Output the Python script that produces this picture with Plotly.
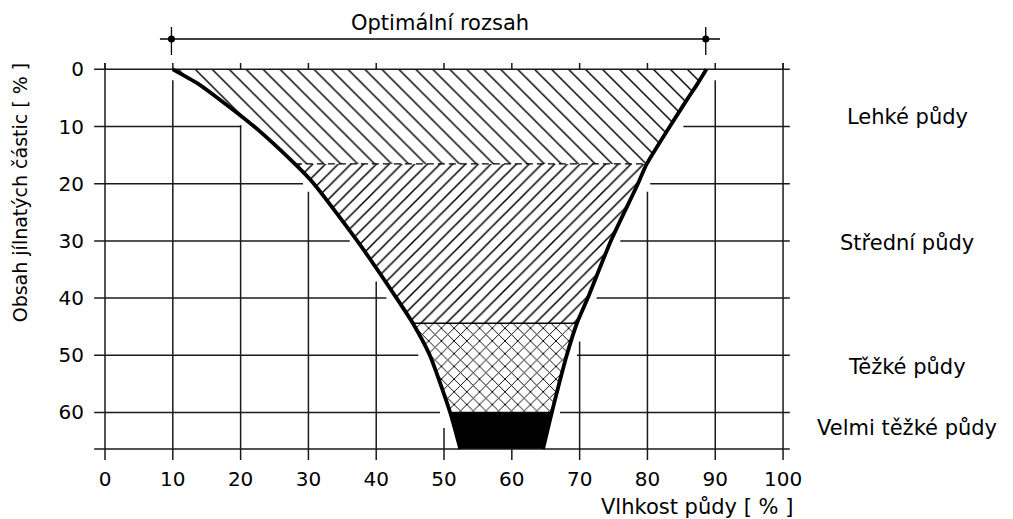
import plotly.graph_objects as go

# ---- data ----
clay_levels = [0, 2.5, 5, 10, 16.55, 20, 30, 40, 44.4, 50, 60, 66.4]
moisture_left = [10, 13.7, 16.6, 22.0, 28.0, 30.8, 37.2, 43.0, 45.4, 47.9, 50.9, 52.4]
moisture_right = [88.7, 87.4, 86.0, 83.3, 79.9, 78.6, 74.6, 71.2, 69.6, 68.1, 65.9, 64.6]

soil_classes = ["Lehké půdy", "Střední půdy", "Těžké půdy", "Velmi těžké půdy"]
class_bounds = [0, 16.55, 44.4, 60, 66.4]
class_label_y = [8.4, 30.4, 52.0, 62.7]

optimum_range = [9.8, 88.6]

x_ticks = [0, 10, 20, 30, 40, 50, 60, 70, 80, 90, 100]
y_ticks = [0, 10, 20, 30, 40, 50, 60]

# grid segments (as drawn in the original figure)
h_grid_y = [10, 20, 30, 40, 50, 60]
h_grid_left_end = [20.1, 29.2, 36.1, 41.5, 46.2, 49.4]
h_grid_right_start = [85.3, 80.4, 76.0, 72.5, 69.6, 67.1]
v_grid_top = [-1.1, 1.9, 9.8, 21.4, 37.1, 62.7, 66.4, 47.6, 21.4, 1.9, -1.1]

FONT = "DejaVu Sans"
FS = 21
INK = "#000000"

XR = [-2.95, 102.5]
YR = [69.18, -10.37]

fig = go.Figure()

def idx(v):
    return clay_levels.index(v)

patterns = [
    dict(shape="\\", size=12, solidity=0.12, fgcolor=INK, fgopacity=1, bgcolor="white"),
    dict(shape="/", size=9, solidity=0.17, fgcolor=INK, fgopacity=1, bgcolor="white"),
    dict(shape="x", size=9, solidity=0.2, fgcolor=INK, fgopacity=1, bgcolor="white"),
    None,
]

for k in range(4):
    a, b = idx(class_bounds[k]), idx(class_bounds[k + 1])
    xs = moisture_left[a:b + 1] + moisture_right[a:b + 1][::-1]
    ys = clay_levels[a:b + 1] + clay_levels[a:b + 1][::-1]
    if patterns[k] is None:
        fig.add_trace(go.Scatter(x=xs, y=ys, fill="toself", fillcolor=INK,
                                 mode="lines", line=dict(width=0), hoverinfo="skip"))
    else:
        fig.add_trace(go.Scatter(x=xs, y=ys, fill="toself", fillcolor="white",
                                 fillpattern=patterns[k], mode="lines",
                                 line=dict(width=0), hoverinfo="skip"))

# class boundary lines
for k, b in enumerate(class_bounds[1:-1]):
    i = idx(b)
    fig.add_trace(go.Scatter(x=[moisture_left[i], moisture_right[i]], y=[b, b], mode="lines",
                             line=dict(color=INK, width=1.3, dash="7px,4px" if k == 0 else "solid"),
                             hoverinfo="skip"))

# grid lines
gx, gy = [], []
for y, le, rs in zip(h_grid_y, h_grid_left_end, h_grid_right_start):
    gx += [-1.6, le, None, rs, 101.0, None]
    gy += [y, y, None, y, y, None]
for y in [0, class_bounds[-1]]:
    gx += [-1.6, 101.0, None]
    gy += [y, y, None]
for x, top in zip(x_ticks, v_grid_top):
    gx += [x, x, None, x, x, None]
    gy += [-1.1, 0, None, top, 68.3, None]
fig.add_trace(go.Scatter(x=gx, y=gy, mode="lines", line=dict(color="#1a1a1a", width=1.5),
                         hoverinfo="skip"))

# thick boundary curves
for xs in (moisture_left, moisture_right):
    fig.add_trace(go.Scatter(x=xs, y=clay_levels, mode="lines",
                             line=dict(color=INK, width=3.8, shape="spline", smoothing=0.6),
                             hoverinfo="skip"))

# optimum range bar
fig.add_trace(go.Scatter(x=[optimum_range[0] - 1.7, optimum_range[1] + 2.1], y=[-5.3, -5.3],
                         mode="lines", line=dict(color=INK, width=1.3), hoverinfo="skip"))
ox, oy = [], []
for x in optimum_range:
    ox += [x, x, None]
    oy += [-7.4, -2.5, None]
fig.add_trace(go.Scatter(x=ox, y=oy, mode="lines", line=dict(color=INK, width=1.3),
                         hoverinfo="skip"))
fig.add_trace(go.Scatter(x=optimum_range, y=[-5.3, -5.3], mode="markers",
                         marker=dict(color=INK, size=7), hoverinfo="skip"))

fig.add_annotation(x=49.4, y=-8.1, text="Optimální rozsah", showarrow=False,
                   font=dict(family=FONT, size=FS, color=INK), xanchor="center", yanchor="middle")

for lab, y in zip(soil_classes, class_label_y):
    fig.add_annotation(xref="paper", x=1.1497, yref="y", y=y, text=lab, showarrow=False,
                       font=dict(family=FONT, size=FS, color=INK), xanchor="center", yanchor="middle")

fig.add_annotation(xref="paper", x=-0.0909, yref="y", y=21.5, text="Obsah jílnatých částic [ % ]",
                   textangle=-90, showarrow=False, font=dict(family=FONT, size=19, color=INK),
                   xanchor="center", yanchor="middle")
fig.add_annotation(xref="x", x=87.3, yref="paper", y=(YR[0] - 76.5) / (YR[0] - YR[1]),
                   text="Vlhkost půdy [ % ]", showarrow=False,
                   font=dict(family=FONT, size=FS, color=INK), xanchor="center", yanchor="middle")

fig.update_layout(
    width=1013, height=519,
    margin=dict(l=77, r=221, t=2, b=62, autoexpand=False),
    paper_bgcolor="white", plot_bgcolor="white",
    showlegend=False,
    xaxis=dict(range=XR, showgrid=False, zeroline=False, showline=False,
               tickvals=x_ticks, ticktext=[str(v) for v in x_ticks], ticks="",
               tickfont=dict(family=FONT, size=20, color=INK)),
    yaxis=dict(range=YR, showgrid=False, zeroline=False, showline=False,
               tickvals=y_ticks, ticktext=[str(v) for v in y_ticks], ticks="",
               tickfont=dict(family=FONT, size=20, color=INK)),
)

fig.write_html("out.html")
